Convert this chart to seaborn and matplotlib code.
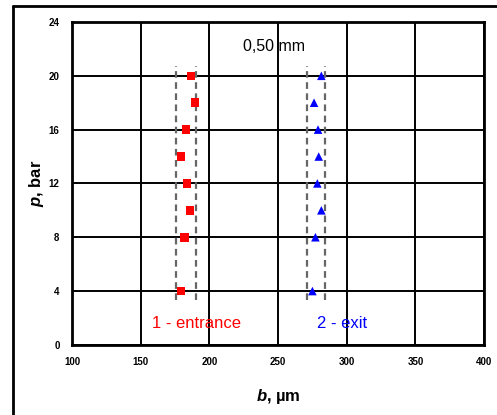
import pandas as pd
import matplotlib
matplotlib.use('Agg')
import matplotlib.pyplot as plt
import seaborn as sns
from matplotlib.lines import Line2D

# values
p_bar = [20, 18, 16, 14, 12, 10, 8, 4]
b_entrance = [186.6, 189.4, 183.0, 179.4, 183.7, 185.9, 182.0, 179.4]
b_exit = [281.5, 276.2, 279.1, 279.6, 278.6, 281.5, 277.2, 275.0]

entrance_band = [175.5, 190.6]
exit_band = [271.2, 284.4]
band_p = [3.3, 20.7]

x_ticks = [100, 150, 200, 250, 300, 350, 400]
y_ticks = [0, 4, 8, 12, 16, 20, 24]

df = pd.DataFrame({
    'p': p_bar + p_bar,
    'b': b_entrance + b_exit,
    'side': ['1 - entrance'] * len(p_bar) + ['2 - exit'] * len(p_bar),
})

sns.set_style('white')
plt.rcParams['font.family'] = ['Liberation Sans', 'DejaVu Sans']
plt.rcParams['mathtext.fontset'] = 'custom'
plt.rcParams['mathtext.it'] = 'Liberation Sans:italic:bold'
plt.rcParams['mathtext.rm'] = 'Liberation Sans:bold'
plt.rcParams['text.color'] = 'black'
plt.rcParams['axes.labelcolor'] = 'black'
plt.rcParams['xtick.color'] = 'black'
plt.rcParams['ytick.color'] = 'black'

fig = plt.figure(figsize=(4.97, 4.15), dpi=100)
ax = fig.add_axes([0.145, 0.169, 0.829, 0.778])

# dashed bands
for xb in entrance_band + exit_band:
    ax.plot([xb, xb], band_p, ls=(0, (3, 2)), color='#666666', lw=1.6, zorder=2)

sns.scatterplot(data=df, x='b', y='p', hue='side', style='side',
                palette={'1 - entrance': '#ff0000', '2 - exit': '#0000ff'},
                markers={'1 - entrance': 's', '2 - exit': '^'},
                s=38, edgecolor='none', legend=False, ax=ax, zorder=3)

ax.set_xlim(100, 400)
ax.set_ylim(0, 24)
ax.set_xticks(x_ticks)
ax.set_yticks(y_ticks)
ax.grid(True, color='black', lw=1.4)
ax.set_axisbelow(True)
for s in ax.spines.values():
    s.set_color('black')
    s.set_linewidth(2)
ax.tick_params(axis='both', direction='out', length=3, width=1.5, color='black',
               labelcolor='black', labelsize=7, pad=6)
for lab in ax.get_xticklabels() + ax.get_yticklabels():
    lab.set_fontweight('bold')

ax.set_xlabel(r'$\mathit{b}$, µm', fontsize=12, fontweight='bold', labelpad=14, color='black')
ax.set_ylabel(r'$\mathit{p}$, bar', fontsize=12, fontweight='bold', labelpad=2, color='black')

ax.text(247, 22.2, '0,50 mm', fontsize=11.5, ha='center', va='center', color='black')
ax.text(158, 1.6, '1 - entrance', fontsize=12, color='#ff0000', va='center')
ax.text(278.5, 1.6, '2 - exit', fontsize=12, color='#0000ff', va='center')

# outer frame (top and left visible)
fig.add_artist(Line2D([0.026, 1.0], [0.9855, 0.9855], color='black', lw=2, transform=fig.transFigure))
fig.add_artist(Line2D([0.026, 0.026], [0.0, 0.9855], color='black', lw=2, transform=fig.transFigure))

fig.savefig('out.png', dpi=100)
